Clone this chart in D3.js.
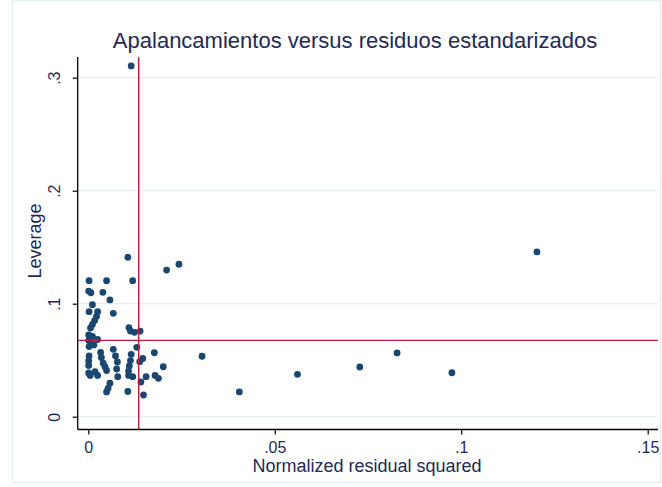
<!DOCTYPE html>
<html>
<head>
<meta charset="utf-8">
<script src="https://cdn.jsdelivr.net/npm/d3@7/dist/d3.min.js"></script>
<style>
  html, body { margin: 0; padding: 0; background: #ffffff; }
  svg { display: block; font-family: "Liberation Sans", Arial, sans-serif; }
</style>
</head>
<body>
<svg id="chart" width="662" height="487"></svg>
<script>
// Normalized residual squared (x) and leverage (y), one entry per observation
const residSq = [
  0.0115, 0.1203, 0.0305, 0.0405, 0.0561, 0.0728, 0.0828, 0.0975,
  0.0106, 0.0210, 0.0243, 0.0002, 0.0049, 0.0119, 0.0001, 0.0007,
  0.0039, 0.0058, 0.0011, 0.0002, 0.0025, 0.0067, 0.0022, 0.0017,
  0.0011, 0.0006, 0.0109, 0.0113, 0.0124, 0.0139,
  0.0001, 0.0011, 0.0025, 0.0001, 0.0007, 0.0002, 0.0015,
  0.0130, 0.0067, 0.0177, 0.0033, 0.0035, 0.0002, 0.0001, 0.0001,
  0.0073, 0.0115, 0.0113, 0.0110, 0.0108, 0.0108, 0.0146, 0.0138,
  0.0040, 0.0045, 0.0049, 0.0078, 0.0076, 0.0201, 0.0001, 0.0005,
  0.0018, 0.0025, 0.0079, 0.0119, 0.0155, 0.0141, 0.0179, 0.0188,
  0.0058, 0.0053, 0.0049, 0.0106, 0.0148
];
const leverage = [
  0.3104, 0.1458, 0.0535, 0.0219, 0.0375, 0.0440, 0.0564, 0.0389,
  0.1411, 0.1298, 0.1349, 0.1204, 0.1204, 0.1204, 0.1112, 0.1097,
  0.1101, 0.1033, 0.0991, 0.0929, 0.0929, 0.0915, 0.0887, 0.0851,
  0.0816, 0.0785, 0.0788, 0.0758, 0.0747, 0.0758,
  0.0723, 0.0710, 0.0683, 0.0674, 0.0657, 0.0621, 0.0635,
  0.0614, 0.0596, 0.0566, 0.0568, 0.0524, 0.0537, 0.0493, 0.0453,
  0.0537, 0.0552, 0.0497, 0.0449, 0.0404, 0.0365, 0.0515, 0.0487,
  0.0473, 0.0440, 0.0409, 0.0484, 0.0422, 0.0442, 0.0387, 0.0365,
  0.0398, 0.0365, 0.0354, 0.0354, 0.0354, 0.0307, 0.0365, 0.0340,
  0.0296, 0.0251, 0.0219, 0.0223, 0.0192
];

// Reference lines: mean normalized residual squared and mean leverage
const meanResidSq = 1 / 74;
const meanLeverage = 5 / 74;

const xTicks = [0, 0.05, 0.1, 0.15];
const xTickLabels = ["0", ".05", ".1", ".15"];
const yTicks = [0, 0.1, 0.2, 0.3];
const yTickLabels = ["0", ".1", ".2", ".3"];

const titleText = "Apalancamientos versus residuos estandarizados";
const xTitle = "Normalized residual squared";
const yTitle = "Leverage";

const points = residSq.map((r, i) => ({ x: r, y: leverage[i] }));

const textColor = "#1e2a55";
const markerColor = "#1a476f";
const refColor = "#c8173f";
const gridColor = "#e6eef0";

const svg = d3.select("#chart");

// Plot frame edges
const frame = { left: 77.7, right: 658, top: 57, bottom: 429.5 };

const x = d3.scaleLinear().domain([0, 0.15]).range([88.3, 647.7]);
const y = d3.scaleLinear().domain([0, 0.3]).range([416.7, 77.7]);

// Light outline around the graph region
svg.append("rect")
  .attr("x", 12.5).attr("y", 0.5)
  .attr("width", 648).attr("height", 482)
  .attr("fill", "none")
  .attr("stroke", "#e3ecee")
  .attr("stroke-width", 1);

// Horizontal grid lines at the leverage ticks
svg.append("g")
  .selectAll("line")
  .data(yTicks)
  .join("line")
  .attr("x1", frame.left).attr("x2", frame.right)
  .attr("y1", d => y(d)).attr("y2", d => y(d))
  .attr("stroke", gridColor)
  .attr("stroke-width", 1.2);

// Points
svg.append("g")
  .selectAll("circle")
  .data(points)
  .join("circle")
  .attr("cx", d => x(d.x))
  .attr("cy", d => y(d.y))
  .attr("r", 3.4)
  .attr("fill", markerColor);

// Reference lines
svg.append("line")
  .attr("x1", x(meanResidSq)).attr("x2", x(meanResidSq))
  .attr("y1", frame.top).attr("y2", frame.bottom)
  .attr("stroke", refColor).attr("stroke-width", 1.4);
svg.append("line")
  .attr("x1", frame.left).attr("x2", frame.right)
  .attr("y1", y(meanLeverage)).attr("y2", y(meanLeverage))
  .attr("stroke", refColor).attr("stroke-width", 1.4);

// X axis
const xAxis = d3.axisBottom(x)
  .tickValues(xTicks)
  .tickFormat((d, i) => xTickLabels[i])
  .tickSize(5);
const gx = svg.append("g")
  .attr("transform", `translate(0,${frame.bottom})`)
  .call(xAxis);
gx.select(".domain").remove();
gx.append("line")
  .attr("x1", frame.left).attr("x2", frame.right)
  .attr("y1", 0).attr("y2", 0)
  .attr("stroke", "#000").attr("stroke-width", 1.3);
gx.selectAll(".tick line").attr("stroke", "#000").attr("stroke-width", 1.2);
gx.selectAll(".tick text")
  .attr("fill", textColor)
  .attr("font-size", 16)
  .attr("font-family", "Liberation Sans, Arial, sans-serif")
  .attr("dy", null)
  .attr("y", 23);

// Y axis
const yAxis = d3.axisLeft(y)
  .tickValues(yTicks)
  .tickFormat((d, i) => yTickLabels[i])
  .tickSize(5);
const gy = svg.append("g")
  .attr("transform", `translate(${frame.left},0)`)
  .call(yAxis);
gy.select(".domain").remove();
gy.append("line")
  .attr("x1", 0).attr("x2", 0)
  .attr("y1", frame.top).attr("y2", frame.bottom)
  .attr("stroke", "#000").attr("stroke-width", 1.3);
gy.selectAll(".tick line").attr("stroke", "#000").attr("stroke-width", 1.2);
gy.selectAll(".tick text")
  .attr("fill", textColor)
  .attr("font-size", 16)
  .attr("font-family", "Liberation Sans, Arial, sans-serif")
  .attr("text-anchor", "middle")
  .attr("dy", null)
  .attr("x", null)
  .attr("transform", "translate(-17.5,0) rotate(-90)");

// Titles
svg.append("text")
  .attr("x", 355).attr("y", 48)
  .attr("text-anchor", "middle")
  .attr("font-size", 22)
  .attr("fill", textColor)
  .text(titleText);

svg.append("text")
  .attr("x", 367).attr("y", 472)
  .attr("text-anchor", "middle")
  .attr("font-size", 18)
  .attr("fill", textColor)
  .text(xTitle);

svg.append("text")
  .attr("transform", "translate(41,241) rotate(-90)")
  .attr("text-anchor", "middle")
  .attr("font-size", 18)
  .attr("fill", textColor)
  .text(yTitle);
</script>
</body>
</html>
